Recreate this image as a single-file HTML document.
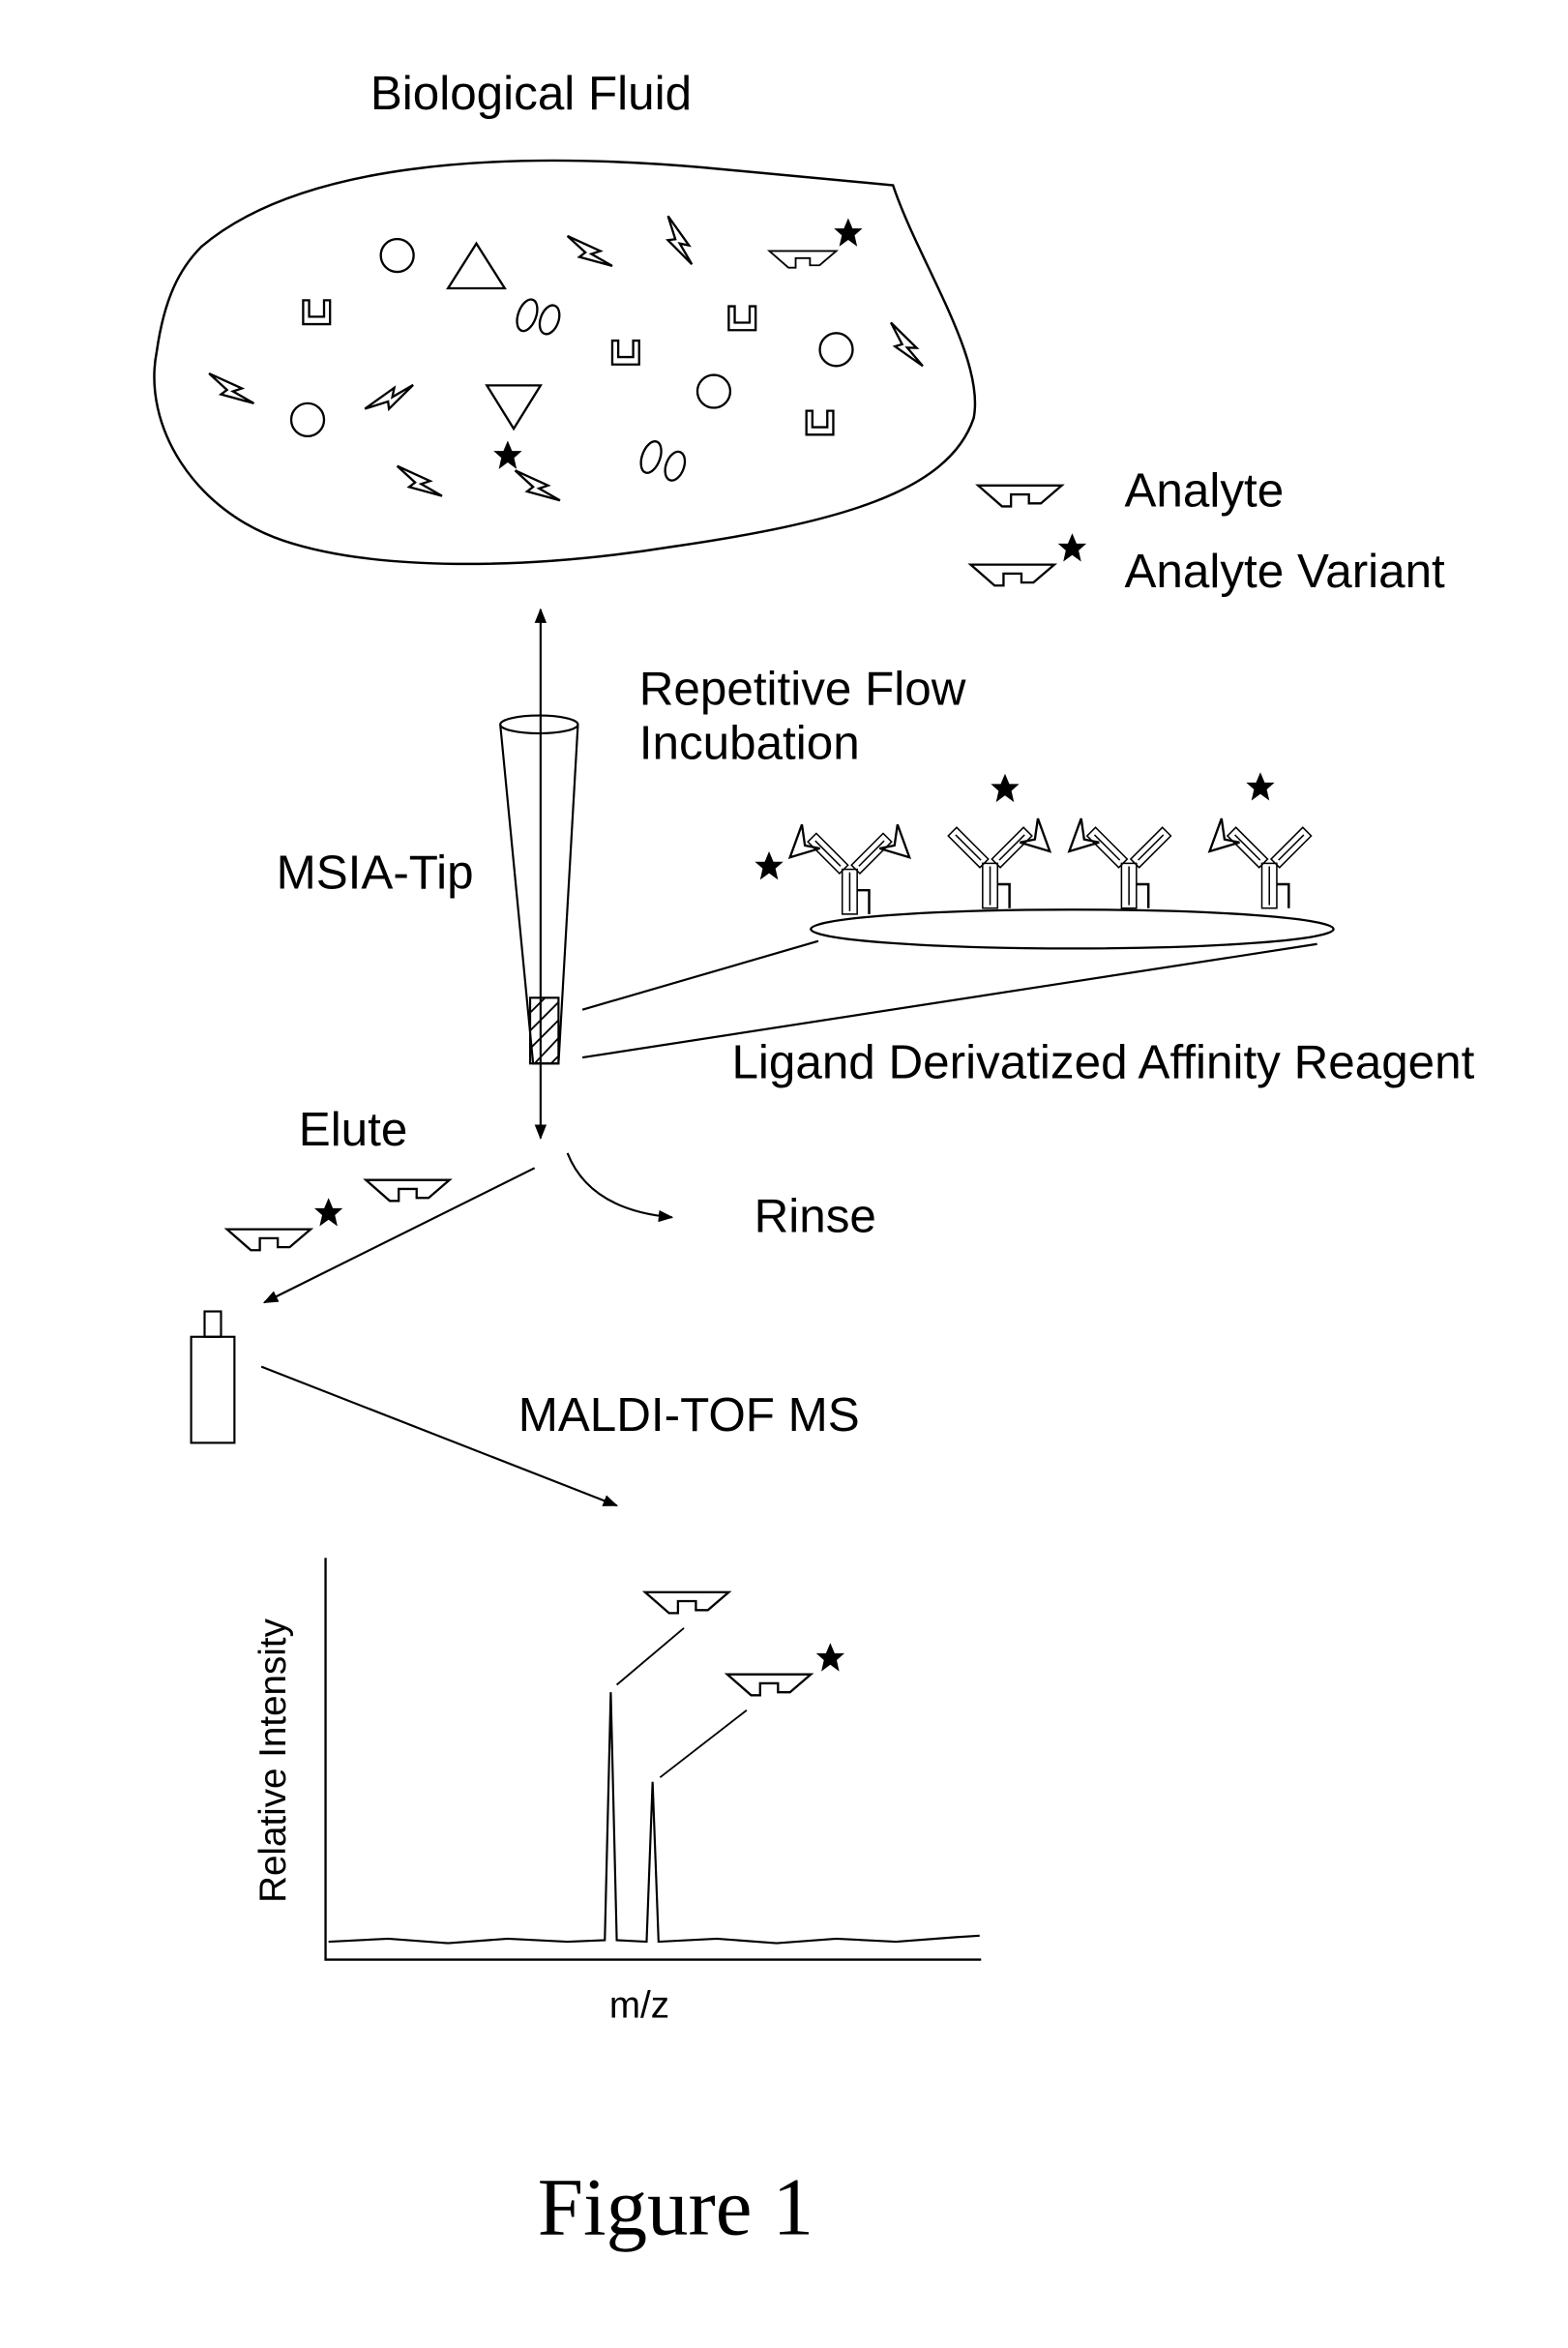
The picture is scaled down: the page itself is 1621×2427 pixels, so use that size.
<!DOCTYPE html>
<html><head><meta charset="utf-8"><style>
html,body{margin:0;padding:0;background:#fff;}
svg{display:block;}
text{font-family:"Liberation Sans",sans-serif;fill:#000;}
</style></head><body>
<svg width="1621" height="2427" viewBox="0 0 1050 1572" xmlns="http://www.w3.org/2000/svg">
<defs>
<marker id="ah" markerWidth="10" markerHeight="8" refX="9" refY="4" orient="auto-start-reverse" markerUnits="userSpaceOnUse"><path d="M0,0 L10,4 L0,8 Z" fill="#000"/></marker>
<g id="an"><path d="M0,0 L56,0 L42,12 L34,12 L34,6 L22,6 L22,14 L16,14 Z" fill="none" stroke="#000" stroke-width="1.5"/></g>
<path id="st" d="M0,-10 L2.9,-3.1 L9.5,-3.1 L4.3,1.5 L6,9 L0,4.6 L-6,9 L-4.3,1.5 L-9.5,-3.1 L-2.9,-3.1 Z" fill="#000"/>
<g id="cu"><path d="M0,0 L0,16 L18,16 L18,0 L14,0 L14,11 L4,11 L4,0 Z" fill="none" stroke="#000" stroke-width="1.5"/></g>
<g id="zz"><path d="M0,0 L22,10 L16,12 L30,20 L8,14 L12,11 Z" fill="none" stroke="#000" stroke-width="1.5"/></g>
<g id="ab" fill="none" stroke="#000" stroke-width="1">
<rect x="-5" y="-30" width="10" height="30"/><line x1="0" y1="-28" x2="0" y2="-2"/>
<path d="M5,-16 L13,-16 L13,0" stroke-width="1.6"/>
<g transform="translate(-4,-30) rotate(-45)"><rect x="-4" y="-30" width="8" height="30"/><line x1="0" y1="-27" x2="0" y2="-3"/></g>
<g transform="translate(4,-30) rotate(45)"><rect x="-4" y="-30" width="8" height="30"/><line x1="0" y1="-27" x2="0" y2="-3"/></g>
</g>
<path id="trL" d="M-20,-44 L-40,-38 L-32,-60 L-30,-46 Z" fill="none" stroke="#000" stroke-width="1.5"/>
<path id="trR" d="M20,-44 L40,-38 L32,-60 L30,-46 Z" fill="none" stroke="#000" stroke-width="1.5"/>
</defs>
<text x="248" y="73" font-size="32">Biological Fluid</text>
<path d="M135,165 C200,110 330,100 470,112 C530,118 580,122 598,124 C615,175 660,240 652,280 C635,330 560,350 450,366 C350,382 250,382 190,362 C130,342 95,285 105,235 C110,200 120,180 135,165 Z" fill="none" stroke="#000" stroke-width="1.6"/>
<circle cx="266" cy="171" r="11" fill="none" stroke="#000" stroke-width="1.5"/>
<circle cx="206" cy="281" r="11" fill="none" stroke="#000" stroke-width="1.5"/>
<circle cx="478" cy="262" r="11" fill="none" stroke="#000" stroke-width="1.5"/>
<circle cx="560" cy="234" r="11" fill="none" stroke="#000" stroke-width="1.5"/>
<path d="M300,193 L338,193 L319,163 Z" fill="none" stroke="#000" stroke-width="1.5"/>
<path d="M326,258 L362,258 L344,287 Z" fill="none" stroke="#000" stroke-width="1.5"/>
<ellipse cx="353" cy="211" rx="6" ry="11" transform="rotate(20 353 211)" fill="none" stroke="#000" stroke-width="1.5"/>
<ellipse cx="368" cy="214" rx="6" ry="10" transform="rotate(20 368 214)" fill="none" stroke="#000" stroke-width="1.5"/>
<ellipse cx="436" cy="306" rx="6" ry="11" transform="rotate(20 436 306)" fill="none" stroke="#000" stroke-width="1.5"/>
<ellipse cx="452" cy="312" rx="6" ry="10" transform="rotate(20 452 312)" fill="none" stroke="#000" stroke-width="1.5"/>
<use href="#cu" x="203" y="201"/><use href="#cu" x="410" y="228"/><use href="#cu" x="488" y="205"/><use href="#cu" x="540" y="275"/>
<use href="#zz" x="380" y="158"/><use href="#zz" x="440" y="148" transform="rotate(30 450 160)"/>
<use href="#zz" x="140" y="250"/><use href="#zz" x="592" y="218" transform="rotate(20 600 230)"/>
<use href="#zz" x="248" y="260" transform="rotate(-60 258 270)"/><use href="#zz" x="266" y="312"/><use href="#zz" x="345" y="315"/>
<use href="#an" x="515" y="168" transform="scale(0.8) translate(129 42)"/>
<use href="#st" x="568" y="156"/><use href="#st" x="340" y="305"/>
<use href="#an" x="655" y="325"/>
<text x="753" y="339" font-size="32">Analyte</text>
<use href="#an" x="650" y="378"/><use href="#st" x="718" y="367"/>
<text x="753" y="393" font-size="32">Analyte Variant</text>
<line x1="362" y1="408" x2="362" y2="762" stroke="#000" stroke-width="1.4" marker-start="url(#ah)" marker-end="url(#ah)"/>
<ellipse cx="361" cy="485" rx="26" ry="6" fill="none" stroke="#000" stroke-width="1.4"/>
<path d="M335,485 L357,712 L374,712 L387,485" fill="none" stroke="#000" stroke-width="1.4"/>
<rect x="355" y="668" width="19" height="44" fill="none" stroke="#000" stroke-width="1.4"/>
<path d="M355,678 L365,668 M355,690 L374,671 M355,702 L374,683 M358,712 L374,695 M369,712 L374,707" stroke="#000" stroke-width="1.2"/>
<text x="428" y="472" font-size="32">Repetitive Flow</text>
<text x="428" y="508" font-size="32">Incubation</text>
<text x="185" y="595" font-size="32">MSIA-Tip</text>
<ellipse cx="718" cy="622" rx="175" ry="13" fill="none" stroke="#000" stroke-width="1.5"/>
<line x1="390" y1="676" x2="548" y2="630" stroke="#000" stroke-width="1.4"/>
<line x1="390" y1="708" x2="882" y2="632" stroke="#000" stroke-width="1.4"/>
<g transform="translate(569,612)"><use href="#ab"/><use href="#trL"/><use href="#trR"/></g>
<g transform="translate(663,608)"><use href="#ab"/><use href="#trR"/></g>
<g transform="translate(756,608)"><use href="#ab"/><use href="#trL"/></g>
<g transform="translate(850,608)"><use href="#ab"/><use href="#trL"/></g>
<use href="#st" x="515" y="580"/><use href="#st" x="673" y="528"/><use href="#st" x="844" y="527"/>
<text x="490" y="722" font-size="32">Ligand Derivatized Affinity Reagent</text>
<text x="200" y="767" font-size="32">Elute</text>
<use href="#an" x="245" y="790"/>
<use href="#an" x="152" y="823"/><use href="#st" x="220" y="812"/>
<line x1="358" y1="782" x2="177" y2="872" stroke="#000" stroke-width="1.4" marker-end="url(#ah)"/>
<path d="M380,772 Q395,810 450,815" fill="none" stroke="#000" stroke-width="1.4" marker-end="url(#ah)"/>
<text x="505" y="825" font-size="32">Rinse</text>
<rect x="128" y="895" width="29" height="71" fill="none" stroke="#000" stroke-width="1.4"/>
<rect x="137" y="878" width="11" height="17" fill="none" stroke="#000" stroke-width="1.4"/>
<line x1="175" y1="915" x2="413" y2="1008" stroke="#000" stroke-width="1.4" marker-end="url(#ah)"/>
<text x="347" y="958" font-size="32">MALDI-TOF MS</text>
<path d="M218,1043 L218,1312 L657,1312" fill="none" stroke="#000" stroke-width="1.5"/>
<path d="M220,1300 L260,1298 L300,1301 L340,1298 L380,1300 L405,1299 L409,1133 L413,1299 L433,1300 L437,1193 L441,1300 L480,1298 L520,1301 L560,1298 L600,1300 L640,1297 L656,1296" fill="none" stroke="#000" stroke-width="1.4"/>
<use href="#an" x="432" y="1066"/>
<line x1="413" y1="1128" x2="458" y2="1090" stroke="#000" stroke-width="1.2"/>
<use href="#an" x="487" y="1121"/><use href="#st" x="556" y="1110"/>
<line x1="442" y1="1190" x2="500" y2="1145" stroke="#000" stroke-width="1.2"/>
<text x="0" y="0" font-size="25" transform="translate(191 1274) rotate(-90)">Relative Intensity</text>
<text x="408" y="1351" font-size="25">m/z</text>
<text x="360" y="1496" font-size="55" style="font-family:'Liberation Serif',serif">Figure 1</text>
</svg>
</body></html>
